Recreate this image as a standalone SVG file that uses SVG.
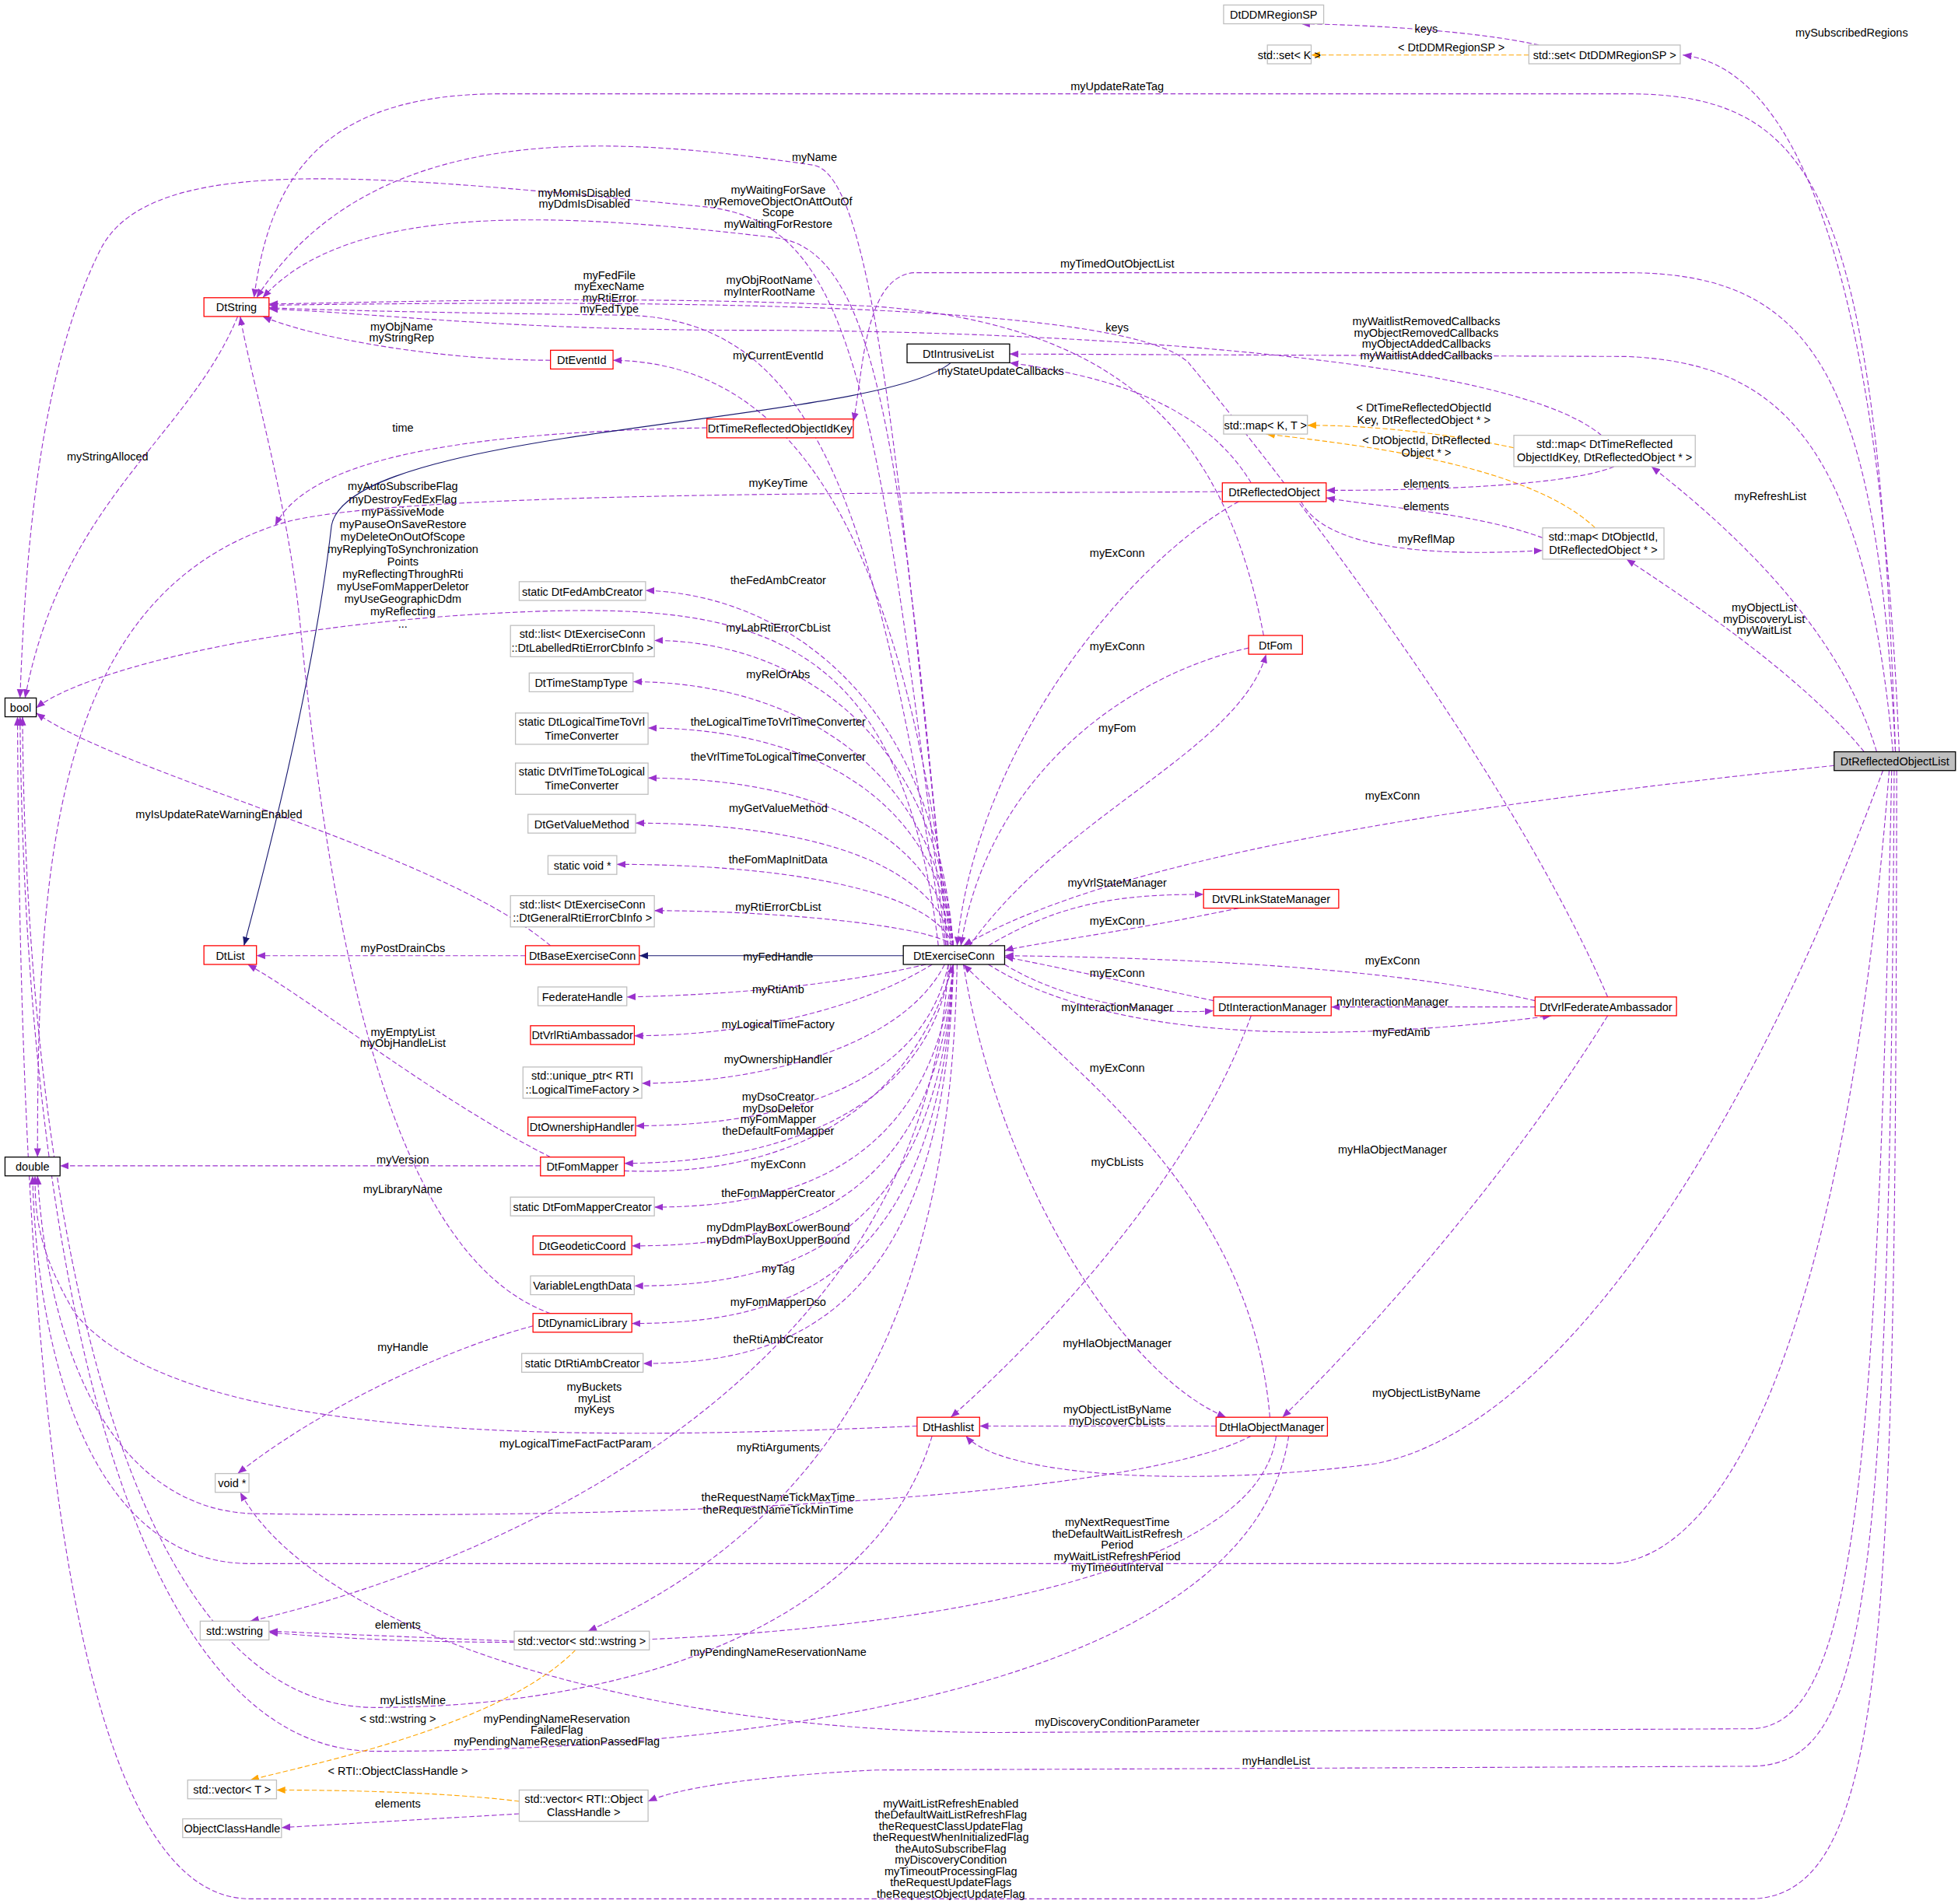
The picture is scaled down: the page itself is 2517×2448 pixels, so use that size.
<svg xmlns="http://www.w3.org/2000/svg" width="2517" height="2448" viewBox="0 0 2517 2448">
<style>
text{font-family:"Liberation Sans",Arial,sans-serif;font-size:9px;fill:#000}
.l{text-anchor:middle}
.n rect{fill:#fff;stroke-width:0.8}
.g rect{stroke:#bfbfbf}
.r rect{stroke:#ff0000}
.k rect{stroke:#000}
.e path{fill:none;stroke-width:0.7}
.p{stroke:#9a32cd;stroke-dasharray:4,2}
.o{stroke:#ffa500;stroke-dasharray:4,2}
.s{stroke:#191970}
</style>
<defs>
<marker id="ap" viewBox="0 0 10 10" refX="10" refY="5" markerWidth="7" markerHeight="7" orient="auto" markerUnits="userSpaceOnUse"><path d="M0,1 L10,5 L0,9 z" fill="#9a32cd"/></marker>
<marker id="ao" viewBox="0 0 10 10" refX="10" refY="5" markerWidth="7" markerHeight="7" orient="auto" markerUnits="userSpaceOnUse"><path d="M0,1 L10,5 L0,9 z" fill="#ffa500"/></marker>
<marker id="as" viewBox="0 0 10 10" refX="10" refY="5" markerWidth="7" markerHeight="7" orient="auto" markerUnits="userSpaceOnUse"><path d="M0,1 L10,5 L0,9 z" fill="#191970"/></marker>
</defs>
<rect width="2517" height="2448" fill="#fff"/>
<g transform="scale(1.6083)">
<g id="edges" class="e">
<path class="p" marker-end="url(#ap)" d="M1230,36 C1180,25 1100,20 1040,19"/><text class="l" x="1140" y="26">keys</text>
<path class="o" marker-end="url(#ao)" d="M1222,44 L1048,44"/><text class="l" x="1160" y="41">&lt; DtDDMRegionSP &gt;</text>
<path class="p" marker-end="url(#ap)" d="M1518,601 C1510,400 1480,60 1345,44"/><text class="l" x="1480" y="29">mySubscribedRegions</text>
<path class="p" marker-end="url(#ap)" d="M1515,601 C1500,150 1450,75 1300,75 L400,75 C250,75 215,150 203,238"/><text class="l" x="893" y="72">myUpdateRateTag</text>
<path class="p" marker-end="url(#ap)" d="M758,756 C720,400 700,140 650,132 C500,110 300,90 205,238"/><text class="l" x="651" y="129">myName</text>
<path class="p" marker-end="url(#ap)" d="M756,756 C700,300 680,175 560,165 C300,140 120,120 80,200 C30,300 20,450 16,558"/><text class="l" x="467" y="157">myMomIsDisabled</text><text class="l" x="467" y="166">myDdmIsDisabled</text>
<path class="p" marker-end="url(#ap)" d="M757,756 C720,350 700,200 620,190 C450,170 280,160 210,238"/><text class="l" x="622" y="155">myWaitingForSave</text><text class="l" x="622" y="164">myRemoveObjectOnAttOutOf</text><text class="l" x="622" y="173">Scope</text><text class="l" x="622" y="182">myWaitingForRestore</text>
<path class="p" marker-end="url(#ap)" d="M755,756 C700,400 650,255 500,252 C350,250 260,248 215,246"/><text class="l" x="487" y="223">myFedFile</text><text class="l" x="487" y="232">myExecName</text><text class="l" x="487" y="241">myRtiError</text><text class="l" x="487" y="250">myFedType</text>
<path class="p" marker-end="url(#ap)" d="M1010,508 C980,350 900,260 700,245 C500,235 300,242 215,243"/><text class="l" x="615" y="227">myObjRootName</text><text class="l" x="615" y="236">myInterRootName</text>
<path class="p" marker-end="url(#ap)" d="M440,288 C350,288 250,270 210,253"/><text class="l" x="321" y="264">myObjName</text><text class="l" x="321" y="273">myStringRep</text>
<path class="p" marker-end="url(#ap)" d="M190,253 C150,350 50,400 20,558"/><text class="l" x="86" y="368">myStringAlloced</text>
<path class="p" marker-end="url(#ap)" d="M1515,601 C1500,300 1450,218 1300,218 L730,218 C690,222 690,300 682,337"/><text class="l" x="893" y="214">myTimedOutObjectList</text>
<path class="p" marker-end="url(#ap)" d="M1513,601 C1490,350 1420,290 1300,285 L807,283"/><text class="l" x="1140" y="260">myWaitlistRemovedCallbacks</text><text class="l" x="1140" y="269">myObjectRemovedCallbacks</text><text class="l" x="1140" y="278">myObjectAddedCallbacks</text><text class="l" x="1140" y="287">myWaitlistAddedCallbacks</text>
<path class="p" marker-end="url(#ap)" d="M1000,386 C960,320 880,300 807,290"/><text class="l" x="800" y="300">myStateUpdateCallbacks</text>
<path class="p" marker-end="url(#ap)" d="M1280,348 C1200,280 800,264 600,264 C400,264 300,250 215,247"/><text class="l" x="893" y="265">keys</text>
<path class="o" marker-end="url(#ao)" d="M1210,358 C1150,345 1090,340 1045,340"/><text class="l" x="1138" y="329">&lt; DtTimeReflectedObjectId</text><text class="l" x="1138" y="339">Key, DtReflectedObject * &gt;</text>
<path class="o" marker-end="url(#ao)" d="M1275,422 C1220,370 1080,355 1012,347"/><text class="l" x="1140" y="355">&lt; DtObjectId, DtReflected</text><text class="l" x="1140" y="365">Object * &gt;</text>
<path class="p" marker-end="url(#ap)" d="M1290,373 C1250,390 1120,392 1060,392"/><text class="l" x="1140" y="390">elements</text>
<path class="p" marker-end="url(#ap)" d="M1233,430 C1180,410 1100,405 1060,398"/><text class="l" x="1140" y="408">elements</text>
<path class="p" marker-end="url(#ap)" d="M1040,401 C1060,440 1150,445 1233,440"/><text class="l" x="1140" y="434">myReflMap</text>
<path class="p" marker-end="url(#ap)" d="M1500,601 C1470,500 1380,420 1320,373"/><text class="l" x="1415" y="400">myRefreshList</text>
<path class="p" marker-end="url(#ap)" d="M1490,601 C1440,540 1350,480 1300,447"/><text class="l" x="1410" y="489">myObjectList</text><text class="l" x="1410" y="498">myDiscoveryList</text><text class="l" x="1410" y="507">myWaitList</text>
<path class="p" marker-end="url(#ap)" d="M1466,612 C1200,640 900,680 770,756"/><text class="l" x="1113" y="639">myExConn</text>
<path class="p" marker-end="url(#ap)" d="M990,401 C900,450 780,600 765,756"/><text class="l" x="893" y="445">myExConn</text>
<path class="p" marker-end="url(#ap)" d="M998,518 C900,540 790,620 768,756"/><text class="l" x="893" y="520">myExConn</text>
<path class="p" marker-end="url(#ap)" d="M775,756 C850,650 990,600 1012,523"/><text class="l" x="893" y="585">myFom</text>
<path class="p" marker-end="url(#ap)" d="M790,756 C850,720 900,715 962,715"/><text class="l" x="893" y="709">myVrlStateManager</text>
<path class="p" marker-end="url(#ap)" d="M990,726 C900,745 820,755 803,760"/><text class="l" x="893" y="739">myExConn</text>
<path class="p" marker-end="url(#ap)" d="M970,800 C900,785 830,770 803,765"/><text class="l" x="893" y="781">myExConn</text>
<path class="p" marker-end="url(#ap)" d="M803,771 C850,800 920,812 970,808"/><text class="l" x="893" y="808">myInteractionManager</text>
<path class="p" marker-end="url(#ap)" d="M1227,800 C1100,770 900,765 803,764"/><text class="l" x="1113" y="771">myExConn</text>
<path class="p" marker-end="url(#ap)" d="M1227,805 L1064,805"/><text class="l" x="1113" y="804">myInteractionManager</text>
<path class="p" marker-end="url(#ap)" d="M790,771 C900,840 1100,830 1240,812"/><text class="l" x="1120" y="828">myFedAmb</text>
<path class="p" marker-end="url(#ap)" d="M1285,797 C1200,600 1000,350 950,290 C900,240 500,240 215,244"/>
<path class="p" marker-end="url(#ap)" d="M1285,812 C1200,950 1080,1080 1025,1133"/><text class="l" x="1113" y="922">myHlaObjectManager</text>
<path class="p" marker-end="url(#ap)" d="M770,771 C800,950 900,1100 980,1133"/><text class="l" x="893" y="1077">myHlaObjectManager</text>
<path class="p" marker-end="url(#ap)" d="M1015,1133 C1000,950 850,850 770,771"/><text class="l" x="893" y="857">myExConn</text>
<path class="p" marker-end="url(#ap)" d="M1000,812 C950,950 820,1080 760,1133"/><text class="l" x="893" y="932">myCbLists</text>
<path class="p" marker-end="url(#ap)" d="M972,1140 L783,1140"/><text class="l" x="893" y="1130">myObjectListByName</text><text class="l" x="893" y="1139">myDiscoverCbLists</text>
<path class="p" marker-end="url(#ap)" d="M1505,616 C1400,900 1250,1140 1100,1170 C950,1190 800,1180 772,1148"/><text class="l" x="1140" y="1117">myObjectListByName</text>
<path class="p" marker-end="url(#ap)" d="M733,1140 C500,1150 150,1160 60,1050 C30,1000 28,970 28,940"/><text class="l" x="475" y="1112">myBuckets</text><text class="l" x="475" y="1121">myList</text><text class="l" x="475" y="1130">myKeys</text>
<path class="p" marker-end="url(#ap)" d="M1000,1148 C900,1200 500,1215 200,1210 C100,1205 40,1100 30,940"/><text class="l" x="622" y="1200">theRequestNameTickMaxTime</text><text class="l" x="622" y="1210">theRequestNameTickMinTime</text>
<path class="p" marker-end="url(#ap)" d="M1510,616 C1480,1000 1400,1240 1290,1250 L200,1250 C80,1250 30,1100 26,940"/><text class="l" x="893" y="1220">myNextRequestTime</text><text class="l" x="893" y="1229">theDefaultWaitListRefresh</text><text class="l" x="893" y="1238">Period</text><text class="l" x="893" y="1247">myWaitListRefreshPeriod</text><text class="l" x="893" y="1256">myTimeoutInterval</text>
<path class="p" marker-end="url(#ap)" d="M1512,616 C1500,1200 1480,1380 1400,1382 L800,1385 C500,1385 250,1300 192,1193"/><text class="l" x="893" y="1380">myDiscoveryConditionParameter</text>
<path class="p" marker-end="url(#ap)" d="M1020,1148 C1000,1300 500,1330 215,1305"/><text class="l" x="622" y="1324">myPendingNameReservationName</text>
<path class="p" marker-end="url(#ap)" d="M1030,1148 C1000,1350 600,1400 300,1400 C100,1400 20,1000 16,573"/><text class="l" x="445" y="1377">myPendingNameReservation</text><text class="l" x="445" y="1386">FailedFlag</text><text class="l" x="445" y="1395">myPendingNameReservationPassedFlag</text>
<path class="p" marker-end="url(#ap)" d="M1514,616 C1510,1300 1490,1410 1400,1412 L700,1415 C600,1420 540,1430 518,1440"/><text class="l" x="1020" y="1411">myHandleList</text>
<path class="p" marker-end="url(#ap)" d="M1516,616 C1515,1300 1510,1515 1400,1518 L200,1518 C40,1518 16,1000 14,573"/><text class="l" x="760" y="1445">myWaitListRefreshEnabled</text><text class="l" x="760" y="1454">theDefaultWaitListRefreshFlag</text><text class="l" x="760" y="1463">theRequestClassUpdateFlag</text><text class="l" x="760" y="1472">theRequestWhenInitializedFlag</text><text class="l" x="760" y="1481">theAutoSubscribeFlag</text><text class="l" x="760" y="1490">myDiscoveryCondition</text><text class="l" x="760" y="1499">myTimeoutProcessingFlag</text><text class="l" x="760" y="1508">theRequestUpdateFlags</text><text class="l" x="760" y="1517">theRequestObjectUpdateFlag</text>
<path class="p" marker-end="url(#ap)" d="M745,1148 C700,1300 500,1365 300,1365 C80,1365 20,900 18,573"/><text class="l" x="330" y="1362">myListIsMine</text>
<path class="p" marker-end="url(#ap)" d="M411,1312 L215,1304"/><text class="l" x="318" y="1302">elements</text>
<path class="o" marker-end="url(#ao)" d="M460,1319 C400,1380 250,1410 200,1423"/><text class="l" x="318" y="1377">&lt; std::wstring &gt;</text>
<path class="o" marker-end="url(#ao)" d="M415,1440 C350,1432 260,1431 221,1431"/><text class="l" x="318" y="1419">&lt; RTI::ObjectClassHandle &gt;</text>
<path class="p" marker-end="url(#ap)" d="M415,1450 L225,1461"/><text class="l" x="318" y="1445">elements</text>
<path class="p" marker-end="url(#ap)" d="M765,771 C760,1000 700,1200 470,1304"/><text class="l" x="622" y="1160">myRtiArguments</text>
<path class="p" marker-end="url(#ap)" d="M758,771 C740,1100 400,1250 200,1296"/><text class="l" x="460" y="1157">myLogicalTimeFactFactParam</text>
<path class="p" marker-end="url(#ap)" d="M426,1060 C350,1080 250,1130 190,1178"/><text class="l" x="322" y="1080">myHandle</text>
<path class="p" marker-end="url(#ap)" d="M440,1050 C300,1000 260,700 240,500 C230,400 200,300 192,253"/><text class="l" x="322" y="954">myLibraryName</text>
<path class="p" marker-end="url(#ap)" d="M440,925 C350,880 250,800 198,771"/><text class="l" x="322" y="828">myEmptyList</text><text class="l" x="322" y="837">myObjHandleList</text>
<path class="p" marker-end="url(#ap)" d="M432,932 L48,932"/><text class="l" x="322" y="930">myVersion</text>
<path class="p" marker-end="url(#ap)" d="M420,764 L205,764"/><text class="l" x="322" y="761">myPostDrainCbs</text>
<path class="p" marker-end="url(#ap)" d="M440,756 C350,680 100,620 29,570"/><text class="l" x="175" y="654">myIsUpdateRateWarningEnabled</text>
<path class="p" marker-end="url(#ap)" d="M750,756 C720,500 600,480 400,490 C200,500 60,540 29,566"/><text class="l" x="322" y="392">myAutoSubscribeFlag</text><text class="l" x="322" y="402">myDestroyFedExFlag</text><text class="l" x="322" y="412">myPassiveMode</text><text class="l" x="322" y="422">myPauseOnSaveRestore</text><text class="l" x="322" y="432">myDeleteOnOutOfScope</text><text class="l" x="322" y="442">myReplyingToSynchronization</text><text class="l" x="322" y="452">Points</text><text class="l" x="322" y="462">myReflectingThroughRti</text><text class="l" x="322" y="472">myUseFomMapperDeletor</text><text class="l" x="322" y="482">myUseGeographicDdm</text><text class="l" x="322" y="492">myReflecting</text><text class="l" x="322" y="502">...</text>
<path class="p" marker-end="url(#ap)" d="M977,393 C800,395 300,390 220,420 C40,480 30,700 30,925"/><text class="l" x="622" y="389">myKeyTime</text>
<path class="p" marker-end="url(#ap)" d="M565,342 C400,345 250,360 220,420"/><text class="l" x="322" y="345">time</text>
<path class="p" marker-end="url(#ap)" d="M760,756 C720,400 620,290 490,288"/><text class="l" x="622" y="287">myCurrentEventId</text>
<path class="s" marker-end="url(#as)" d="M722,764 L511,764"/>
<path class="s" marker-end="url(#as)" d="M760,290 C700,340 280,340 265,420 C250,550 210,700 195,756"/>
<path class="p" marker-end="url(#ap)" d="M762,756 C745,550 620,475 516,472"/><text class="l" x="622" y="467">theFedAmbCreator</text>
<path class="p" marker-end="url(#ap)" d="M762,756 C745,570 620,512 523,512"/><text class="l" x="622" y="505">myLabRtiErrorCbList</text>
<path class="p" marker-end="url(#ap)" d="M762,756 C745,600 620,545 506,545"/><text class="l" x="622" y="542">myRelOrAbs</text>
<path class="p" marker-end="url(#ap)" d="M762,756 C745,620 620,582 518,582"/><text class="l" x="622" y="580">theLogicalTimeToVrlTimeConverter</text>
<path class="p" marker-end="url(#ap)" d="M762,756 C745,650 620,622 518,622"/><text class="l" x="622" y="608">theVrlTimeToLogicalTimeConverter</text>
<path class="p" marker-end="url(#ap)" d="M762,756 C745,680 620,658 508,658"/><text class="l" x="622" y="649">myGetValueMethod</text>
<path class="p" marker-end="url(#ap)" d="M762,756 C745,710 620,691 493,691"/><text class="l" x="622" y="690">theFomMapInitData</text>
<path class="p" marker-end="url(#ap)" d="M762,756 C745,740 620,728 523,728"/><text class="l" x="622" y="728">myRtiErrorCbList</text>
<path class="p" marker-end="url(#ap)" d="M740,771 C680,785 600,795 501,797"/><text class="l" x="622" y="768">myFedHandle</text>
<path class="p" marker-end="url(#ap)" d="M745,771 C690,805 600,828 507,828"/><text class="l" x="622" y="794">myRtiAmb</text>
<path class="p" marker-end="url(#ap)" d="M755,771 C720,840 600,866 513,866"/><text class="l" x="622" y="822">myLogicalTimeFactory</text>
<path class="p" marker-end="url(#ap)" d="M758,771 C735,880 600,900 508,900"/><text class="l" x="622" y="850">myOwnershipHandler</text>
<path class="p" marker-end="url(#ap)" d="M760,771 C740,900 600,930 499,930"/><text class="l" x="622" y="880">myDsoCreator</text><text class="l" x="622" y="889">myDsoDeletor</text><text class="l" x="622" y="898">myFomMapper</text><text class="l" x="622" y="907">theDefaultFomMapper</text>
<path class="p" marker-end="url(#ap)" d="M499,936 C600,940 720,910 762,771"/><text class="l" x="622" y="934">myExConn</text>
<path class="p" marker-end="url(#ap)" d="M762,771 C745,940 620,965 523,965"/><text class="l" x="622" y="957">theFomMapperCreator</text>
<path class="p" marker-end="url(#ap)" d="M762,771 C748,970 620,996 505,996"/><text class="l" x="622" y="984">myDdmPlayBoxLowerBound</text><text class="l" x="622" y="994">myDdmPlayBoxUpperBound</text>
<path class="p" marker-end="url(#ap)" d="M762,771 C750,1000 620,1028 507,1028"/><text class="l" x="622" y="1017">myTag</text>
<path class="p" marker-end="url(#ap)" d="M762,771 C752,1030 620,1058 505,1058"/><text class="l" x="622" y="1044">myFomMapperDso</text>
<path class="p" marker-end="url(#ap)" d="M762,771 C755,1060 620,1090 514,1090"/><text class="l" x="622" y="1074">theRtiAmbCreator</text>
</g>
<g class="n g" id="DtDDMRegionSP"><rect x="978" y="4" width="80" height="15"/><text class="l" x="1018" y="15">DtDDMRegionSP</text></g>
<g class="n g" id="setK"><rect x="1013" y="36" width="35" height="15"/><text class="l" x="1030.5" y="47">std::set&lt; K &gt;</text></g>
<g class="n g" id="setDDM"><rect x="1222" y="36" width="121" height="15"/><text class="l" x="1282.5" y="47">std::set&lt; DtDDMRegionSP &gt;</text></g>
<g class="n r" id="DtString"><rect x="163" y="238" width="52" height="15"/><text class="l" x="189" y="249">DtString</text></g>
<g class="n r" id="DtEventId"><rect x="440" y="280" width="50" height="15"/><text class="l" x="465" y="291">DtEventId</text></g>
<g class="n k" id="DtIntrusiveList"><rect x="725" y="275" width="82" height="15"/><text class="l" x="766" y="286">DtIntrusiveList</text></g>
<g class="n r" id="DtTimeReflectedObjectIdKey"><rect x="565" y="335" width="117" height="15"/><text class="l" x="623.5" y="346">DtTimeReflectedObjectIdKey</text></g>
<g class="n g" id="mapKT"><rect x="978" y="332" width="67" height="15"/><text class="l" x="1011.5" y="343">std::map&lt; K, T &gt;</text></g>
<g class="n g" id="mapTime"><rect x="1210" y="348" width="145" height="25"/><text class="l" x="1282.5" y="358">std::map&lt; DtTimeReflected</text><text class="l" x="1282.5" y="369">ObjectIdKey, DtReflectedObject * &gt;</text></g>
<g class="n r" id="DtReflectedObject"><rect x="977" y="386" width="83" height="15"/><text class="l" x="1018.5" y="397">DtReflectedObject</text></g>
<g class="n g" id="mapObjId"><rect x="1233" y="422" width="97" height="25"/><text class="l" x="1281.5" y="432">std::map&lt; DtObjectId,</text><text class="l" x="1281.5" y="443">DtReflectedObject * &gt;</text></g>
<g class="n g" id="FedAmbCreator"><rect x="415" y="465" width="101" height="15"/><text class="l" x="465.5" y="476">static DtFedAmbCreator</text></g>
<g class="n g" id="listLab"><rect x="408" y="500" width="115" height="25"/><text class="l" x="465.5" y="510">std::list&lt; DtExerciseConn</text><text class="l" x="465.5" y="521">::DtLabelledRtiErrorCbInfo &gt;</text></g>
<g class="n g" id="DtTimeStampType"><rect x="423" y="538" width="83" height="15"/><text class="l" x="464.5" y="549">DtTimeStampType</text></g>
<g class="n g" id="LtToVrl"><rect x="412" y="570" width="106" height="25"/><text class="l" x="465" y="580">static DtLogicalTimeToVrl</text><text class="l" x="465" y="591">TimeConverter</text></g>
<g class="n g" id="VrlToLt"><rect x="412" y="610" width="106" height="25"/><text class="l" x="465" y="620">static DtVrlTimeToLogical</text><text class="l" x="465" y="631">TimeConverter</text></g>
<g class="n g" id="DtGetValueMethod"><rect x="422" y="651" width="86" height="15"/><text class="l" x="465" y="662">DtGetValueMethod</text></g>
<g class="n g" id="staticVoid"><rect x="438" y="684" width="55" height="15"/><text class="l" x="465.5" y="695">static void *</text></g>
<g class="n g" id="listGen"><rect x="408" y="716" width="115" height="25"/><text class="l" x="465.5" y="726">std::list&lt; DtExerciseConn</text><text class="l" x="465.5" y="737">::DtGeneralRtiErrorCbInfo &gt;</text></g>
<g class="n r" id="DtBaseExerciseConn"><rect x="420" y="756" width="91" height="15"/><text class="l" x="465.5" y="767">DtBaseExerciseConn</text></g>
<g class="n g" id="FederateHandle"><rect x="430" y="789" width="71" height="15"/><text class="l" x="465.5" y="800">FederateHandle</text></g>
<g class="n r" id="DtVrlRtiAmbassador"><rect x="424" y="820" width="83" height="15"/><text class="l" x="465.5" y="831">DtVrlRtiAmbassador</text></g>
<g class="n g" id="uniquePtr"><rect x="418" y="853" width="95" height="25"/><text class="l" x="465.5" y="863">std::unique_ptr&lt; RTI</text><text class="l" x="465.5" y="874">::LogicalTimeFactory &gt;</text></g>
<g class="n r" id="DtOwnershipHandler"><rect x="422" y="893" width="86" height="15"/><text class="l" x="465" y="904">DtOwnershipHandler</text></g>
<g class="n r" id="DtFomMapper"><rect x="432" y="925" width="67" height="15"/><text class="l" x="465.5" y="936">DtFomMapper</text></g>
<g class="n g" id="FomMapperCreator"><rect x="408" y="957" width="115" height="15"/><text class="l" x="465.5" y="968">static DtFomMapperCreator</text></g>
<g class="n r" id="DtGeodeticCoord"><rect x="426" y="988" width="79" height="15"/><text class="l" x="465.5" y="999">DtGeodeticCoord</text></g>
<g class="n g" id="VariableLengthData"><rect x="424" y="1020" width="83" height="15"/><text class="l" x="465.5" y="1031">VariableLengthData</text></g>
<g class="n r" id="DtDynamicLibrary"><rect x="426" y="1050" width="79" height="15"/><text class="l" x="465.5" y="1061">DtDynamicLibrary</text></g>
<g class="n g" id="RtiAmbCreator"><rect x="417" y="1082" width="97" height="15"/><text class="l" x="465.5" y="1093">static DtRtiAmbCreator</text></g>
<g class="n k" id="DtExerciseConn"><rect x="722" y="756" width="81" height="15"/><text class="l" x="762.5" y="767">DtExerciseConn</text></g>
<g class="n k" id="bool"><rect x="4" y="558" width="25" height="15"/><text class="l" x="16.5" y="569">bool</text></g>
<g class="n r" id="DtList"><rect x="163" y="756" width="42" height="15"/><text class="l" x="184" y="767">DtList</text></g>
<g class="n k" id="double"><rect x="4" y="925" width="44" height="15"/><text class="l" x="26" y="936">double</text></g>
<g class="n g" id="voidPtr"><rect x="172" y="1178" width="27" height="15"/><text class="l" x="185.5" y="1189">void *</text></g>
<g class="n g" id="wstring"><rect x="160" y="1296" width="55" height="15"/><text class="l" x="187.5" y="1307">std::wstring</text></g>
<g class="n g" id="vecWstring"><rect x="411" y="1304" width="108" height="15"/><text class="l" x="465" y="1315">std::vector&lt; std::wstring &gt;</text></g>
<g class="n g" id="vecT"><rect x="150" y="1423" width="71" height="15"/><text class="l" x="185.5" y="1434">std::vector&lt; T &gt;</text></g>
<g class="n g" id="vecOCH"><rect x="415" y="1431" width="103" height="25"/><text class="l" x="466.5" y="1441">std::vector&lt; RTI::Object</text><text class="l" x="466.5" y="1452">ClassHandle &gt;</text></g>
<g class="n g" id="ObjectClassHandle"><rect x="146" y="1454" width="79" height="15"/><text class="l" x="185.5" y="1465">ObjectClassHandle</text></g>
<g class="n r" id="DtFom"><rect x="998" y="508" width="43" height="15"/><text class="l" x="1019.5" y="519">DtFom</text></g>
<g class="n r" id="DtVRLinkStateManager"><rect x="962" y="711" width="108" height="15"/><text class="l" x="1016" y="722">DtVRLinkStateManager</text></g>
<g class="n r" id="DtInteractionManager"><rect x="970" y="797" width="94" height="15"/><text class="l" x="1017" y="808">DtInteractionManager</text></g>
<g class="n r" id="DtVrlFederateAmbassador"><rect x="1227" y="797" width="113" height="15"/><text class="l" x="1283.5" y="808">DtVrlFederateAmbassador</text></g>
<g class="n r" id="DtHashlist"><rect x="733" y="1133" width="50" height="15"/><text class="l" x="758" y="1144">DtHashlist</text></g>
<g class="n r" id="DtHlaObjectManager"><rect x="972" y="1133" width="89" height="15"/><text class="l" x="1016.5" y="1144">DtHlaObjectManager</text></g>
<g class="n" id="DtReflectedObjectList"><rect x="1466" y="601" width="97" height="15" fill="#bfbfbf" stroke="#000" style="fill:#bfbfbf;stroke:#000"/><text class="l" x="1514.5" y="612">DtReflectedObjectList</text></g>
</g>
</svg>
